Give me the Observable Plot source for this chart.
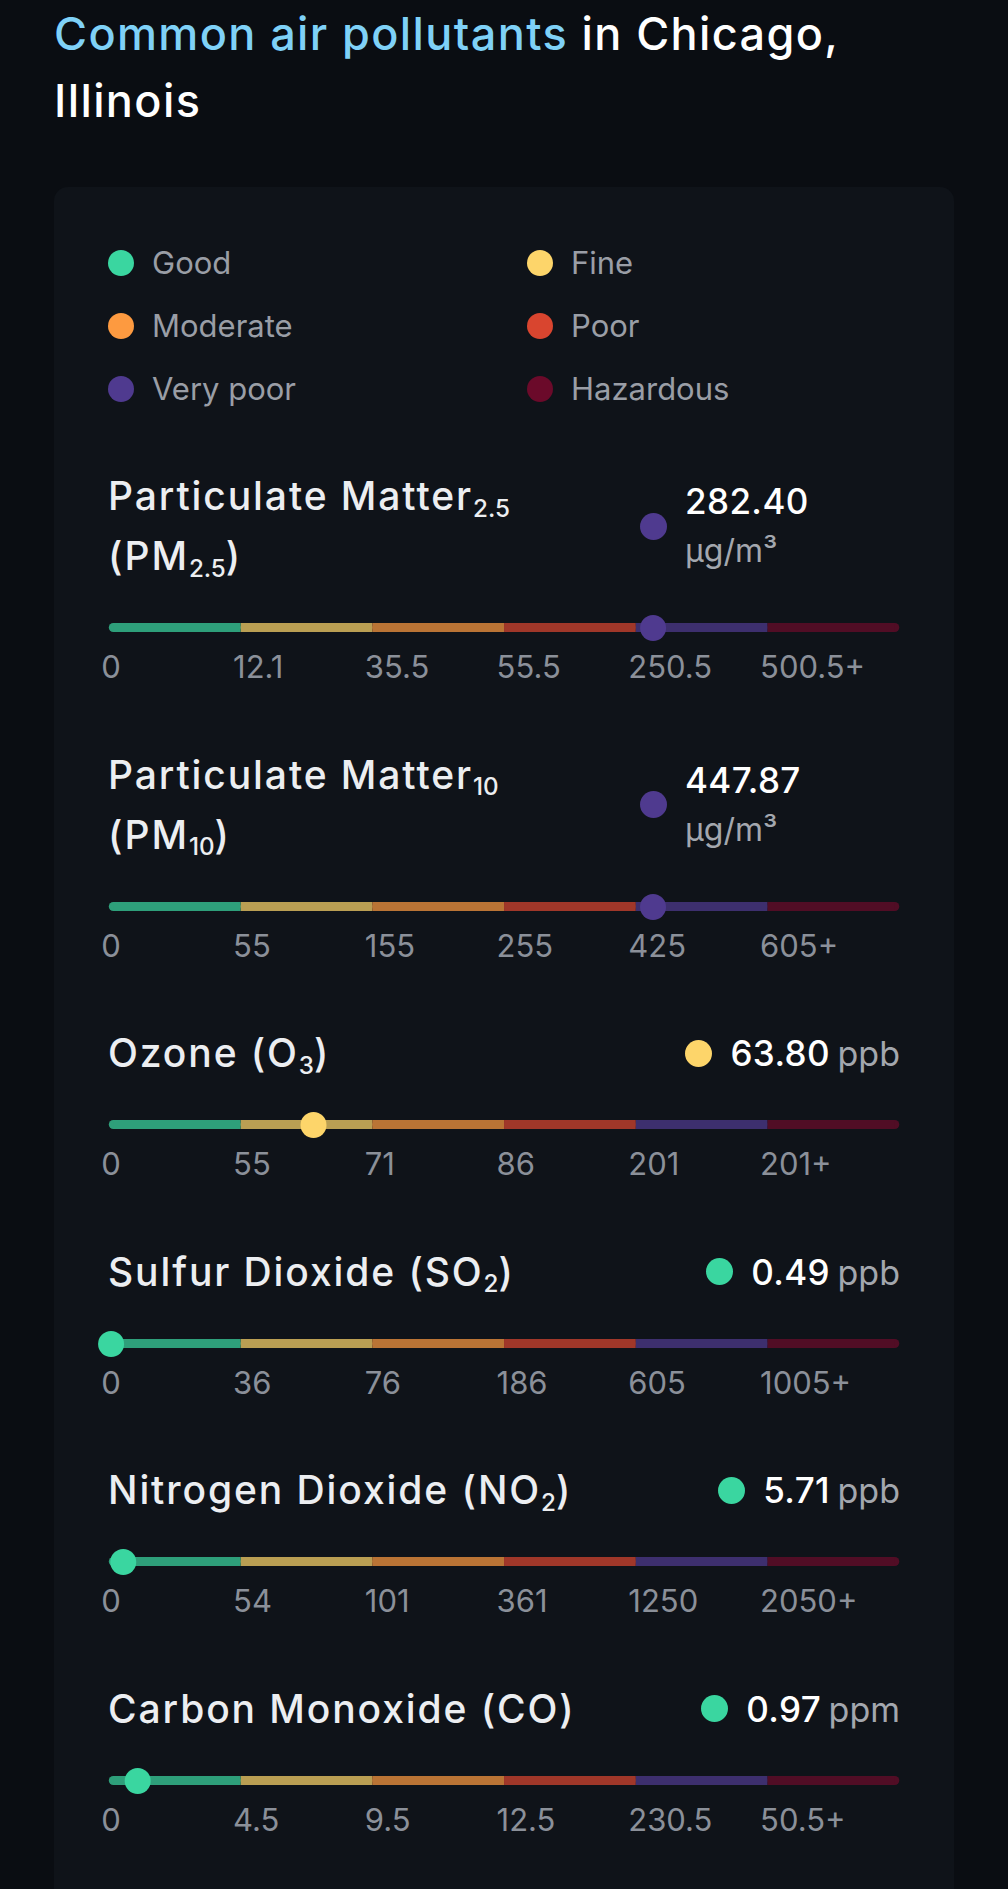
<!DOCTYPE html>
<html><head><meta charset="utf-8">
<script src="https://cdn.jsdelivr.net/npm/d3@7"></script>
<script src="https://cdn.jsdelivr.net/npm/@observablehq/plot@0.6"></script>
<style>
html,body{margin:0;background:#0a0d12;}
body{width:1008px;font-family:Inter,"Noto Sans",sans-serif;}
#title{margin:0 0 0 54px;padding:0;font-size:45px;font-weight:500;line-height:67px;color:#ffffff;width:900px;letter-spacing:1.4px;}
#title .hl{color:#7fd1f7;}
#card{margin:53px 0 0 54px;width:900px;box-sizing:border-box;padding:44px 54px 80px;background:#0f1319;border-radius:14px;}
.legend{display:grid;grid-template-columns:419px 1fr;}
.legend .item{height:63px;display:flex;align-items:center;font-size:31px;color:#9a9ea6;}
.legend .dot{width:26px;height:26px;border-radius:50%;margin-right:18px;flex:0 0 auto;}
#gauges{margin-top:46px;}
.gauge{margin-bottom:55.5px;}
.head{display:flex;justify-content:space-between;align-items:center;}
.gtitle{font-size:39px;font-weight:500;line-height:60px;color:#eceef1;white-space:nowrap;letter-spacing:1.9px;}
.gtitle sub{font-size:0.62em;vertical-align:baseline;position:relative;top:0.28em;line-height:0;letter-spacing:0;}
.right{display:flex;align-items:center;gap:18px;white-space:nowrap;}
.right .vdot{width:27px;height:27px;border-radius:50%;flex:0 0 auto;}
.right .val{font-size:35px;font-weight:500;color:#ffffff;letter-spacing:0.4px;}
.right .unit{font-size:34px;font-weight:400;color:#a3a7ae;margin-left:3px;}
.right.wrap{width:260px;justify-content:flex-start;gap:18px;}
.right.wrap .txt{display:flex;flex-direction:column;line-height:49px;}
.right.wrap .unit{margin-left:0;font-size:32px;}
.gauge svg{display:block;margin:27px 0 0 -12px;overflow:visible;max-width:none;}
</style>
</head><body>
<h1 id="title"><span class="hl">Common air pollutants</span> in Chicago,<br>Illinois</h1>
<div id="card">
  <div class="legend" id="legend"></div>
  <div id="gauges"></div>
</div>
<script>
// ---- data ----
const categories = ["Good", "Fine", "Moderate", "Poor", "Very poor", "Hazardous"];
const pollutantNames = ["Particulate Matter", "Particulate Matter", "Ozone", "Sulfur Dioxide", "Nitrogen Dioxide", "Carbon Monoxide"];
const nameSubs = ["2.5", "10", "", "", "", ""];
const pollutantCodes = ["PM", "PM", "O", "SO", "NO", "CO"];
const codeSubs = ["2.5", "10", "3", "2", "2", ""];
const values = [282.40, 447.87, 63.80, 0.49, 5.71, 0.97];
const units = ["µg/m³", "µg/m³", "ppb", "ppb", "ppb", "ppm"];
const breakpoints = [
  [0, 12.1, 35.5, 55.5, 250.5, 500.5],
  [0, 55, 155, 255, 425, 605],
  [0, 55, 71, 86, 201, 201],
  [0, 36, 76, 186, 605, 1005],
  [0, 54, 101, 361, 1250, 2050],
  [0, 4.5, 9.5, 12.5, 230.5, 50.5]
];

// ---- styles ----
const palette = ["#3ad6a0", "#fdd56a", "#fd9a40", "#d9452f", "#4f3a8f", "#6b0a2a"];
const cardBg = "#0f1319";
const dimPalette = palette.map(c => d3.interpolateRgb(cardBg, c)(0.72));

// legend
const legend = document.getElementById("legend");
categories.forEach((c, i) => {
  const it = document.createElement("div");
  it.className = "item";
  it.innerHTML = `<span class="dot" style="background:${palette[i]}"></span>${c}`;
  legend.appendChild(it);
});

function position(v, t) {
  for (let i = 0; i < t.length - 1; i++) {
    if (v < t[i + 1]) return i + (v - t[i]) / (t[i + 1] - t[i]);
  }
  return t.length - 1;
}

const gauges = document.getElementById("gauges");
pollutantNames.forEach((name, k) => {
  const t = breakpoints[k];
  const v = values[k];
  const pos = position(v, t);
  const cat = Math.min(Math.floor(pos), categories.length - 1);
  const wrap = units[k].length > 3;
  const ns = nameSubs[k] ? `<sub>${nameSubs[k]}</sub>` : "";
  const cs = codeSubs[k] ? `<sub>${codeSubs[k]}</sub>` : "";
  const titleHtml = `${name}${ns}${wrap ? "<br>" : " "}(${pollutantCodes[k]}${cs})`;
  const rightHtml = wrap
    ? `<div class="right wrap"><span class="vdot" style="background:${palette[cat]}"></span><div class="txt"><span class="val">${v.toFixed(2)}</span><span class="unit">${units[k]}</span></div></div>`
    : `<div class="right"><span class="vdot" style="background:${palette[cat]}"></span><span><span class="val">${v.toFixed(2)}</span> <span class="unit">${units[k]}</span></span></div>`;
  const g = document.createElement("div");
  g.className = "gauge";
  g.innerHTML = `<div class="head"><div class="gtitle">${titleHtml}</div>${rightHtml}</div>`;

  const segs = categories.map((c, i) => ({i, cat: c, color: dimPalette[i]}));
  const labels = t.map((d, i) => (i === t.length - 1 ? `${d}+` : `${d}`));

  const plot = Plot.plot({
    width: 816,
    height: 76,
    margin: 0,
    style: {background: "transparent", overflow: "visible", maxWidth: "none"},
    x: {domain: [0, 6], range: [12.8, 803.3], axis: null},
    y: {type: "band", domain: ["bar"], range: [9.5, 18.5], padding: 0, axis: null},
    color: {type: "identity"},
    marks: [
      Plot.barX(segs, {x1: d => d.i, x2: d => d.i + 1, y: () => "bar", fill: d => d.color, rx: 4.5}),
      Plot.barX(segs.filter(d => d.i > 0 && d.i < 5), {x1: d => d.i, x2: d => d.i + 1, y: () => "bar", fill: d => d.color}),
      Plot.barX(segs.filter(d => d.i === 0), {x1: d => d.i, x2: d => d.i + 1, y: () => "bar", fill: d => d.color, insetLeft: 5}),
      Plot.barX(segs.filter(d => d.i === 5), {x1: d => d.i, x2: d => d.i + 1, y: () => "bar", fill: d => d.color, insetRight: 5}),
      Plot.text(labels, {x: (d, i) => i, text: d => d, frameAnchor: "bottom", dy: -21, lineAnchor: "middle", textAnchor: "start", dx: -8, fontSize: 31, fill: "#8b9099", fontFamily: "Inter"}),
      Plot.dot([pos], {x: d => d, y: () => "bar", r: 13, fill: palette[cat], stroke: "none"})
    ]
  });
  g.appendChild(plot);
  gauges.appendChild(g);
});
</script>
</body></html>
